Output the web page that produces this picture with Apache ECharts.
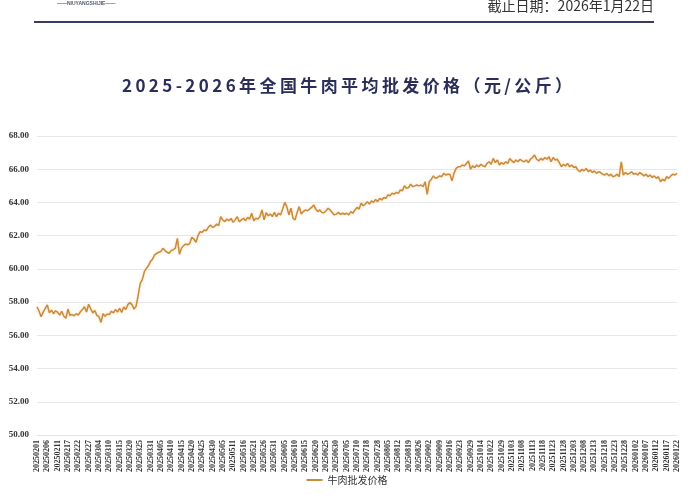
<!DOCTYPE html>
<html><head><meta charset="utf-8">
<script src="https://cdn.jsdelivr.net/npm/echarts@6/dist/echarts.min.js"></script>
<style>html,body{margin:0;padding:0;background:#fff}#c{width:694px;height:500px}</style>
</head><body><div id="c"></div>
<script>
const chartTitle = '2025-2026年全国牛肉平均批发价格（元/公斤）';
const dateNote = '截止日期：2026年1月22日';
const logoText = '——NIUYANGSHIJIE——';
const seriesName = '牛肉批发价格';
const yMin = 50, yMax = 68, yStep = 2;

const tickLabels = [
'20250201','20250206','20250211','20250217','20250222','20250227','20250304','20250310','20250315','20250320',
'20250325','20250331','20250405','20250410','20250415','20250420','20250425','20250430','20250505','20250511',
'20250516','20250521','20250526','20250531','20250605','20250610','20250615','20250620','20250625','20250630',
'20250705','20250710','20250718','20250728','20250805','20250812','20250819','20250826','20250902','20250909',
'20250916','20250923','20250929','20251014','20251022','20251029','20251103','20251108','20251113','20251118',
'20251123','20251128','20251203','20251208','20251213','20251218','20251223','20251228','20260102','20260107',
'20260112','20260117','20260122'];

const prices = [
57.72,57.45,57.12,57.40,57.62, 57.83,57.35,57.52,57.30,57.48,
57.38,57.22,57.45,57.15,57.03, 57.58,57.20,57.25,57.18,57.30,
57.22,57.42,57.55,57.72,57.40, 57.87,57.60,57.35,57.50,57.20,
57.12,56.78,57.30,57.15,57.28, 57.25,57.45,57.35,57.55,57.40,
57.62,57.38,57.70,57.55,57.85, 57.97,57.85,57.58,57.75,58.40,
59.13,59.35,59.83,60.03,60.20, 60.45,60.60,60.85,60.94,61.00,
61.05,61.24,61.10,61.00,60.94, 61.10,61.15,61.25,61.84,60.88,
61.25,61.40,61.50,61.45,61.54, 61.90,61.80,61.60,62.00,62.24,
62.20,62.34,62.30,62.50,62.64, 62.50,62.55,62.70,62.60,63.15,
62.94,62.85,63.00,62.90,63.04, 62.80,62.95,63.14,62.84,62.95,
63.05,62.90,63.10,63.00,63.35, 62.90,63.05,63.00,63.15,63.55,
62.95,63.38,63.20,63.30,63.15, 63.40,63.15,63.35,63.25,63.60,
64.00,63.75,63.25,63.65,63.05, 62.95,63.40,63.75,63.30,63.45,
63.55,63.50,63.60,63.70,63.85, 63.60,63.45,63.55,63.40,63.38,
63.50,63.65,63.55,63.40,63.25, 63.30,63.40,63.28,63.35,63.29,
63.35,63.25,63.45,63.35,63.55, 63.70,63.60,63.95,63.80,63.90,
64.04,63.90,64.10,64.00,64.18, 64.05,64.25,64.15,64.30,64.25,
64.45,64.40,64.55,64.50,64.61, 64.55,64.75,64.70,65.00,64.85,
64.90,65.10,64.95,65.00,65.05, 65.00,65.05,64.95,65.25,64.49,
65.25,65.40,65.60,65.45,65.50, 65.60,65.55,65.75,65.65,65.70,
65.70,65.30,65.75,66.05,66.15, 66.15,66.25,66.20,66.35,66.50,
66.00,66.20,66.10,66.25,66.15, 66.30,66.20,66.15,66.35,66.45,
66.30,66.65,66.40,66.55,66.25, 66.40,66.30,66.45,66.35,66.65,
66.50,66.40,66.55,66.45,66.60, 66.50,66.45,66.55,66.40,66.60,
66.70,66.85,66.60,66.50,66.65, 66.55,66.70,66.60,66.75,66.45,
66.70,66.55,66.60,66.40,66.15, 66.30,66.20,66.35,66.15,66.25,
66.10,66.15,65.95,65.85,66.00, 65.90,66.05,65.85,65.95,65.80,
65.90,65.75,65.85,65.80,65.70, 65.65,65.75,65.60,65.70,65.55,
65.60,65.70,65.55,66.45,65.65, 65.80,65.70,65.75,65.85,65.70,
65.75,65.65,65.80,65.70,65.60, 65.70,65.55,65.65,65.50,65.60,
65.45,65.55,65.25,65.40,65.30, 65.55,65.45,65.60,65.70,65.65,
65.75];

// category axis: each labelled date followed by the (unlabelled) days until the next label
function pad(n){return n<10?'0'+n:''+n;}
const categories = [];
tickLabels.forEach(function(d,i){
  categories.push(d);
  if(i<tickLabels.length-1){
    const y=+d.slice(0,4), m=+d.slice(4,6)-1, dd=+d.slice(6,8);
    for(let k=1;k<=4;k++){
      const t=new Date(Date.UTC(y,m,dd+k));
      categories.push(''+t.getUTCFullYear()+pad(t.getUTCMonth()+1)+pad(t.getUTCDate()));
    }
  }
});

const spaced = chartTitle.split('').join('\u2009');
const serif = '"Liberation Serif", "Times New Roman", serif';
const cjk = '"Noto Sans CJK SC", "Noto Sans", sans-serif';

const chart = echarts.init(document.getElementById('c'), null, {renderer:'canvas'});
chart.setOption({
  backgroundColor:'#ffffff',
  animation:false,
  title:{
    text: spaced, left:'center', top:72,
    textStyle:{fontFamily:cjk, fontSize:17, fontWeight:'bold', color:'#2c2e5a'}
  },
  graphic:[
    {type:'line', shape:{x1:34,y1:22,x2:654,y2:22}, style:{stroke:'#3a3c62', lineWidth:2}},
    {type:'text', right:40, top:-1, style:{text:dateNote, font:'14px "Noto Sans CJK SC", sans-serif', fill:'#333333'}},
    {type:'text', left:57, top:1, style:{text:logoText, font:'bold 5px "Liberation Sans", sans-serif', fill:'#555a70'}}
  ],
  legend:{
    data:[{name:seriesName, icon:'rect'}], bottom:10, left:'center', itemWidth:16, itemHeight:2, itemGap:4,
    textStyle:{fontFamily:cjk, fontSize:10, color:'#333333'}
  },
  grid:{left:37, right:17, top:136, bottom:65, containLabel:false},
  xAxis:{
    type:'category', data:categories, boundaryGap:false,
    axisLine:{show:true, lineStyle:{color:'#e4e4e4'}},
    axisTick:{show:false},
    axisLabel:{interval:4, rotate:90, fontFamily:serif, fontWeight:'bold', fontSize:8, color:'#333333', margin:5}
  },
  yAxis:{
    type:'value', min:yMin, max:yMax, interval:yStep,
    axisLine:{show:false}, axisTick:{show:false},
    splitLine:{lineStyle:{color:'#e8e8e8', width:1}},
    axisLabel:{formatter:function(v){return v.toFixed(2);}, fontFamily:serif, fontWeight:'bold', fontSize:9, color:'#333333', margin:8}
  },
  series:[{
    name:seriesName, type:'line', data:prices, symbol:'none', smooth:false,
    lineStyle:{color:'#c98a3c', width:1.5, shadowColor:'rgba(240,170,80,0.45)', shadowBlur:3},
    itemStyle:{color:'#c98a3c'}
  }]
});
</script></body></html>
